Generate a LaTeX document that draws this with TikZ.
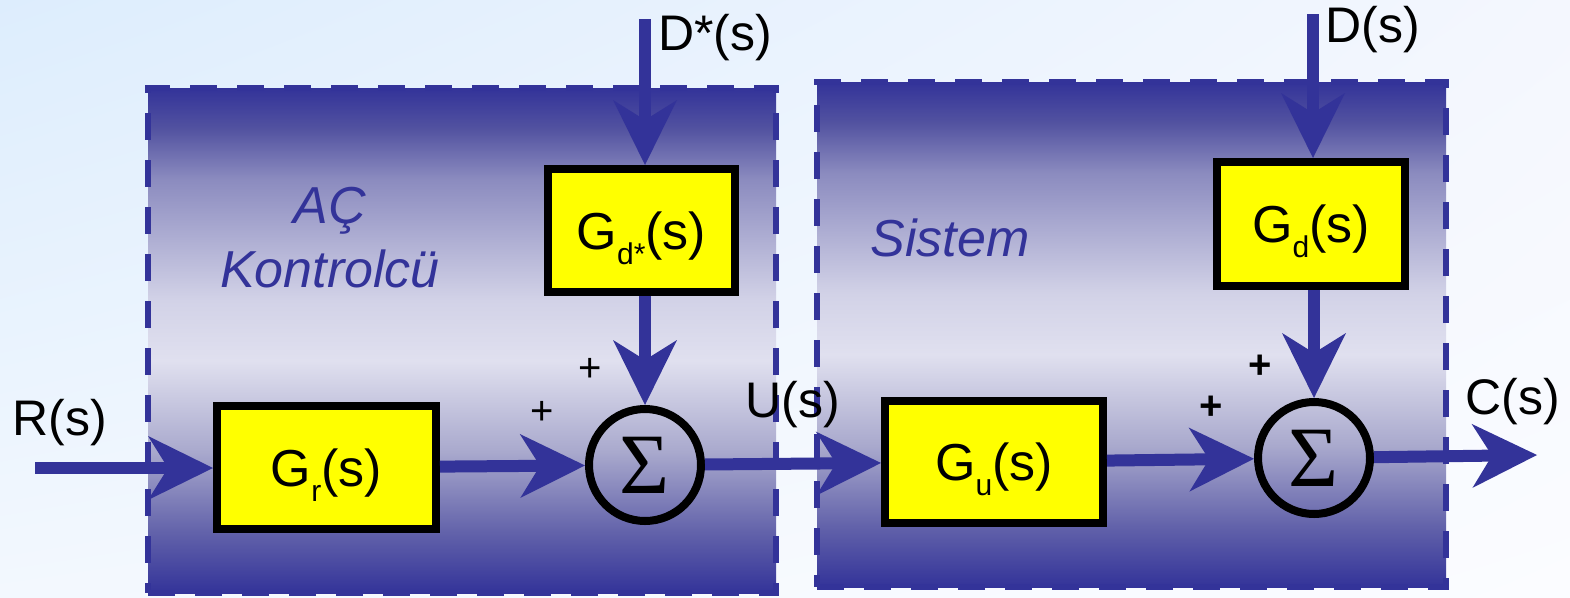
\documentclass[tikz,border=0pt]{standalone}
\usepackage{fontspec}
\setmainfont{Liberation Sans}
\newfontfamily\sigmafont{Liberation Serif}
\usepackage{tikz}
\usetikzlibrary{arrows.meta,positioning,shadings}
\definecolor{ctlnavy}{HTML}{333399}
\definecolor{ctlyellow}{HTML}{FFFF00}
\definecolor{fadeA}{HTML}{6262AA}
\definecolor{fadeB}{HTML}{A9A9CD}
\definecolor{fadeC}{HTML}{E0E0EF}
\definecolor{fadeD}{HTML}{D2D2E7}
\definecolor{fadeE}{HTML}{8B8BBF}
\definecolor{fadeF}{HTML}{5252A0}
\definecolor{skyUL}{HTML}{DDEDFD}
\definecolor{skyUR}{HTML}{F4F7FE}
\definecolor{skyLL}{HTML}{F3F8FE}
\definecolor{skyLR}{HTML}{FBFCFF}
\pgfdeclareverticalshading{ctlfade}{100bp}{color(0bp)=(ctlnavy); color(25bp)=(ctlnavy);
  color(31bp)=(fadeA); color(39bp)=(fadeB); color(48bp)=(fadeC); color(54bp)=(fadeD);
  color(66bp)=(fadeE); color(71bp)=(fadeF); color(75bp)=(ctlnavy); color(100bp)=(ctlnavy)}
\newcommand{\lowidx}[1]{\raisebox{-15pt}{\fontsize{30}{30}\selectfont #1}}
\tikzset{
  ctl-region/.style={draw=ctlnavy, line width=6pt, dash pattern=on 27pt off 20pt,
    shade, shading=ctlfade, inner sep=0pt},
  ctl-block/.style={draw=black, fill=ctlyellow, line width=8pt, inner sep=0pt,
    text height=37pt, text depth=0pt, font=\fontsize{52}{52}\selectfont},
  ctl-sum/.style={circle, draw=black, line width=8pt, minimum size=112pt, inner sep=0pt,
    font=\sigmafont\fontsize{86}{86}\selectfont},
  ctl-signal/.style={draw=ctlnavy, line width=12pt,
    -{Stealth[length=65pt, width=64pt, inset=20pt, line width=0pt]}},
  ctl-label/.style={font=\fontsize{50}{50}\selectfont, inner sep=0pt},
  ctl-title/.style={font=\itshape\fontsize{52}{64}\selectfont, text=ctlnavy, align=center, inner sep=0pt},
  ctl-plus/.style={font=\fontsize{40}{40}\selectfont, inner sep=0pt}
}
\begin{document}
\begin{tikzpicture}[x=1pt, y=-1pt]
  % background
  \shade[upper left=skyUL, upper right=skyUR, lower left=skyLL, lower right=skyLR]
    (0,0) rectangle (1570,597);
  \useasboundingbox (0,0) rectangle (1570,597);

  % controller and plant regions
  \node[ctl-region, minimum width=628pt, minimum height=505pt] (ctrl-area) at (462,340.5) {};
  \node[ctl-region, minimum width=629pt, minimum height=505pt] (sys-area) at (1131.5,334.5) {};
  \node[ctl-title] (ctrl-title) at (330,238) {AÇ\\Kontrolcü};
  \node[ctl-title] (sys-title) at (950,238) {Sistem};

  % blocks
  \node[ctl-block, minimum width=219pt, minimum height=123pt] (gr) at (326.5,467.5) {G\lowidx{r}(s)};
  \node[ctl-block, minimum width=187pt, minimum height=123pt] (gdstar) at (641.5,230.5) {G\lowidx{d*}(s)};
  \node[ctl-block, minimum width=218pt, minimum height=122pt] (gu) at (994,462) {G\lowidx{u}(s)};
  \node[ctl-block, minimum width=188pt, minimum height=124pt] (gd) at (1311,224) {G\lowidx{d}(s)};

  % summing points
  \node[ctl-sum] (sum1) at (645,465) {Σ};
  \node[ctl-sum] (sum2) at (1314,458) {Σ};

  % signals
  \coordinate (r-in) at (35,468);
  \coordinate (dstar-in) at (645,19);
  \coordinate (d-in) at (1313,14);
  \coordinate (c-out) at (1537,455);
  \draw[ctl-signal] (r-in) -- (r-in -| gr.west);
  \draw[ctl-signal] (gr) -- (sum1);
  \draw[ctl-signal] (dstar-in) -- (dstar-in |- gdstar.north);
  \draw[ctl-signal] (gdstar.south -| sum1) -- (sum1);
  \draw[ctl-signal] (sum1) -- (gu);
  \draw[ctl-signal] (d-in) -- (d-in |- gd.north);
  \draw[ctl-signal] (gd.south -| sum2) -- (sum2);
  \draw[ctl-signal] (gu) -- (sum2);
  \draw[ctl-signal] (sum2) -- (c-out);

  % signal names
  \node[ctl-label] (r-label) at (60,423) {R(s)};
  \node[ctl-label] (dstar-label) at (715,38) {D*(s)};
  \node[ctl-label] (u-label) at (793,405) {U(s)};
  \node[ctl-label] (d-label) at (1373,30) {D(s)};
  \node[ctl-label] (c-label) at (1513,402) {C(s)};

  % signs
  \node[ctl-plus] (plus-a) at (590,370) {+};
  \node[ctl-plus] (plus-b) at (542,413) {+};
  \node[ctl-plus, font=\bfseries\fontsize{40}{40}\selectfont] (plus-c) at (1260,367) {+};
  \node[ctl-plus, font=\bfseries\fontsize{40}{40}\selectfont] (plus-d) at (1211,408) {+};
\end{tikzpicture}
\end{document}
